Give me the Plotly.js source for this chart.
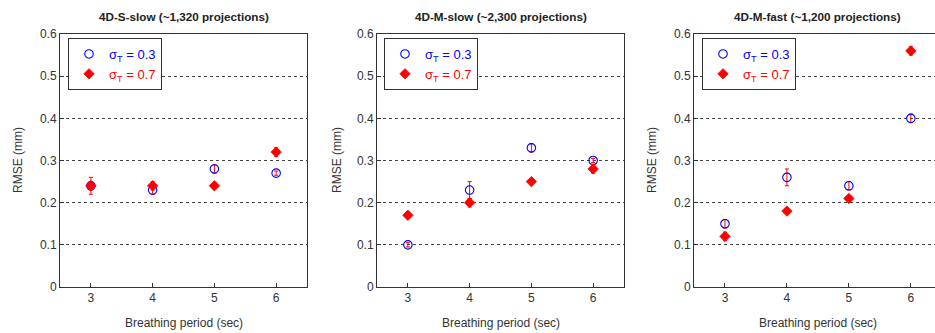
<!DOCTYPE html>
<html>
<head>
<meta charset="utf-8">
<script src="https://cdn.plot.ly/plotly-3.0.1.min.js"></script>
<style>html,body{margin:0;padding:0;background:#fff;}#chart{width:935px;height:333px;}</style>
</head>
<body>
<div id="chart"></div>
<script>
// Data
const periods = [3, 4, 5, 6];
const panelTitles = ["4D-S-slow (~1,320 projections)", "4D-M-slow (~2,300 projections)", "4D-M-fast (~1,200 projections)"];
const seriesNames = ["σ<sub>T</sub> = 0.3", "σ<sub>T</sub> = 0.7"];
const sSlow03 = [0.24, 0.23, 0.28, 0.27];
const sSlow03Err = [0.01, 0.01, 0.01, 0.005];
const sSlow07 = [0.24, 0.24, 0.24, 0.32];
const sSlow07Err = [0.02, 0.01, 0.005, 0.01];
const mSlow03 = [0.10, 0.23, 0.33, 0.30];
const mSlow03Err = [0.005, 0.02, 0.01, 0.005];
const mSlow07 = [0.17, 0.20, 0.25, 0.28];
const mSlow07Err = [0.005, 0.01, 0.005, 0.01];
const mFast03 = [0.15, 0.26, 0.24, 0.40];
const mFast03Err = [0.01, 0.02, 0.01, 0.01];
const mFast07 = [0.12, 0.18, 0.21, 0.56];
const mFast07Err = [0.01, 0.005, 0.005, 0.01];
const yTickVals = [0, 0.1, 0.2, 0.3, 0.4, 0.5, 0.6];
const xTickVals = [3, 4, 5, 6];

const BLUE = "#0000ff", RED = "#ff0000";
const FONT = "Liberation Sans, Arial, sans-serif";
const W = 935, H = 333;

const panels = [
  {s03: sSlow03, e03: sSlow03Err, s07: sSlow07, e07: sSlow07Err},
  {s03: mSlow03, e03: mSlow03Err, s07: mSlow07, e07: mSlow07Err},
  {s03: mFast03, e03: mFast03Err, s07: mFast07, e07: mFast07Err}
];
const xDomains = [[60/W, 307/W], [377/W, 624/W], [694/W, 1]];
const xRanges = [[2.5, 6.5], [2.5, 6.5], [2.5, 6.39]];
const yDomain = [1 - 287/H, 1 - 34/H];
const legendX = [68, 384, 702];
const yTitleX = [18, 337, 652];

const traces = [];
const layout = {
  width: W, height: H,
  margin: {l: 0, r: 0, t: 0, b: 0},
  paper_bgcolor: "#fff", plot_bgcolor: "#fff",
  font: {family: FONT, size: 12, color: "#333"},
  showlegend: true,
  annotations: []
};

panels.forEach((p, i) => {
  const n = i === 0 ? "" : String(i + 1);
  const xa = "x" + n, ya = "y" + n;
  const lg = "legend" + n;
  traces.push({
    x: periods, y: p.s03, xaxis: xa, yaxis: ya, type: "scatter", mode: "markers",
    name: '<span style="color:' + BLUE + '">' + seriesNames[0] + '</span>',
    legend: lg,
    marker: {symbol: "circle-open", size: 8.5, color: BLUE, line: {width: 1.1, color: BLUE}},
    error_y: {type: "data", array: p.e03, visible: true, color: RED, thickness: 1, width: 2}
  });
  traces.push({
    x: periods, y: p.s07, xaxis: xa, yaxis: ya, type: "scatter", mode: "markers",
    name: '<span style="color:' + RED + '">' + seriesNames[1] + '</span>',
    legend: lg,
    marker: {symbol: "diamond", size: 8, color: RED, line: {width: 0.8, color: RED}},
    error_y: {type: "data", array: p.e07, visible: true, color: RED, thickness: 1, width: 2}
  });

  layout["xaxis" + n] = {
    domain: xDomains[i], range: xRanges[i], anchor: ya,
    tickvals: xTickVals, ticks: "inside", ticklen: 4, tickcolor: "#333",
    showline: true, linecolor: "#333", linewidth: 1, mirror: true,
    showgrid: false, zeroline: false,
    tickfont: {family: FONT, size: 12, color: "#333"}
  };
  layout["yaxis" + n] = {
    domain: yDomain, range: [0, 0.6], anchor: xa,
    tickvals: yTickVals, ticks: "inside", ticklen: 4, tickcolor: "#333",
    showline: true, linecolor: "#333", linewidth: 1, mirror: i < 2,
    showgrid: true, gridcolor: "#444", griddash: "dot", gridwidth: 1,
    zeroline: false,
    tickfont: {family: FONT, size: 12, color: "#333"}
  };
  layout[lg] = {
    x: legendX[i] / W, y: 1 - 38 / H, xanchor: "left", yanchor: "top",
    xref: "paper", yref: "paper",
    bgcolor: "#fff", bordercolor: "#333", borderwidth: 1,
    font: {family: FONT, size: 13},
    itemwidth: 30, tracegroupgap: 0
  };
  // panel title
  layout.annotations.push({
    text: "<b>" + panelTitles[i] + "</b>", xref: xa, yref: "paper", x: 4.5, y: 1 - 17 / H,
    showarrow: false, font: {family: FONT, size: 11.7, color: "#222"}, xanchor: "center", yanchor: "middle"
  });
  // x title
  layout.annotations.push({
    text: "Breathing period (sec)", xref: xa, yref: "paper", x: 4.5, y: 1 - 323 / H,
    showarrow: false, font: {family: FONT, size: 12, color: "#333"}, xanchor: "center", yanchor: "middle"
  });
  // y title
  layout.annotations.push({
    text: "RMSE (mm)", xref: "paper", yref: "paper", x: yTitleX[i] / W, y: 1 - 160 / H,
    textangle: -90, showarrow: false, font: {family: FONT, size: 12, color: "#333"},
    xanchor: "center", yanchor: "middle"
  });
});

Plotly.newPlot("chart", traces, layout, {displayModeBar: false, staticPlot: true});
</script>
</body>
</html>
